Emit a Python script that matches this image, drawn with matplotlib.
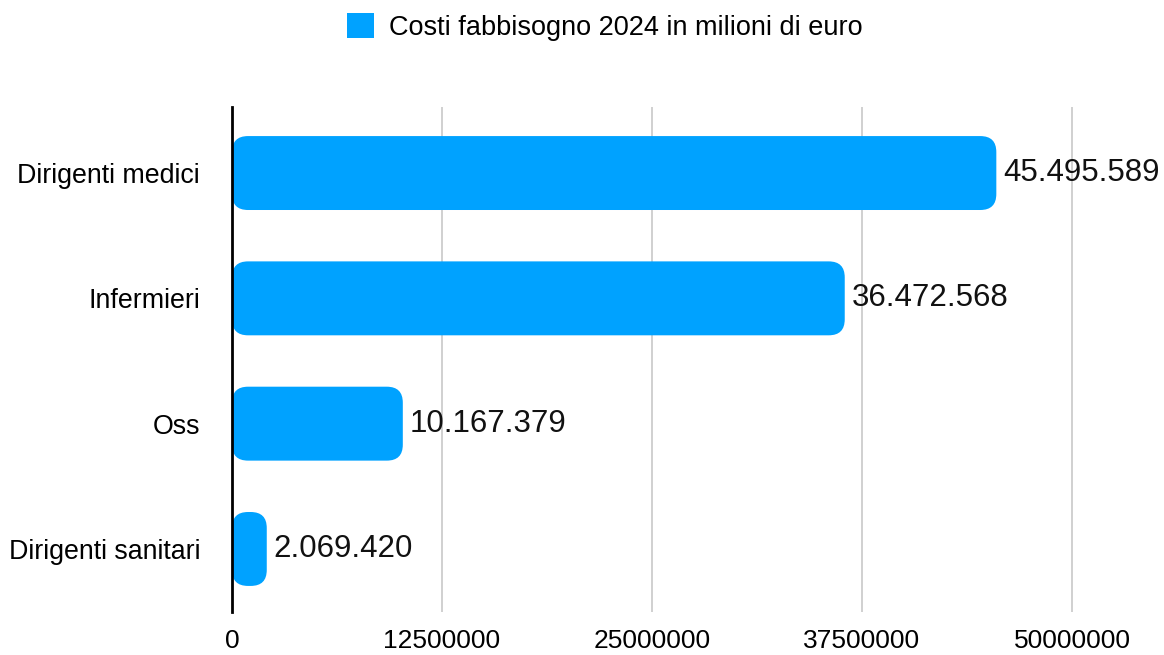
import matplotlib
matplotlib.use("Agg")
import matplotlib.pyplot as plt
from matplotlib.patches import FancyBboxPatch, Patch

categories = ["Dirigenti medici", "Infermieri", "Oss", "Dirigenti sanitari"]
values = [45495589, 36472568, 10167379, 2069420]
value_labels = ["45.495.589", "36.472.568", "10.167.379", "2.069.420"]
x_ticks = [0, 12500000, 25000000, 37500000, 50000000]
legend_label = "Costi fabbisogno 2024 in milioni di euro"

BAR_COLOR = "#00A2FF"
W, H = 1164, 655
plt.rcParams["font.family"] = ["Liberation Sans", "DejaVu Sans"]

fig = plt.figure(figsize=(W / 100, H / 100), dpi=100)
ax_left, ax_right, ax_top, ax_bottom = 232, 1114, 107, 612
ax = fig.add_axes([ax_left / W, 1 - ax_bottom / H,
                   (ax_right - ax_left) / W, (ax_bottom - ax_top) / H])

xmax = 52500000
y_lo, y_hi = 3.503, -0.527
ax.set_xlim(0, xmax)
ax.set_ylim(y_lo, y_hi)

bars = ax.barh(range(len(categories)), values, height=0.59, color=BAR_COLOR)

# replace plain rectangles with rounded ones (radius given in pixels)
px_w = ax_right - ax_left
px_h = ax_bottom - ax_top
x_per_px = xmax / px_w
y_per_px = (y_lo - y_hi) / px_h
radius_px = 16
for rect in bars:
    x0, y0 = rect.get_x(), rect.get_y()
    w, h = rect.get_width(), rect.get_height()
    r = min(radius_px, w / x_per_px / 2) * x_per_px
    fb = FancyBboxPatch((x0, y0), w, h,
                        boxstyle=f"round,pad=0,rounding_size={r}",
                        mutation_aspect=y_per_px / x_per_px,
                        facecolor=BAR_COLOR, edgecolor="none", zorder=3)
    ax.add_patch(fb)
    rect.set_visible(False)

for i, (v, lab) in enumerate(zip(values, value_labels)):
    ax.text(v + 7 * x_per_px, i, lab, va="center", ha="left",
            fontsize=22.5, color="#111111", clip_on=False, zorder=4)

ax.set_yticks(range(len(categories)))
ax.set_yticklabels(categories, fontsize=19.3)
ax.set_xticks(x_ticks)
ax.set_xticklabels([str(t) for t in x_ticks], fontsize=19)
ax.tick_params(axis="y", length=0, pad=23)
ax.tick_params(axis="x", length=0, pad=12)

ax.grid(axis="x", color="#c8c8c8", linewidth=1.2, zorder=0)
ax.set_axisbelow(True)
for side in ["top", "right", "bottom"]:
    ax.spines[side].set_visible(False)
ax.spines["left"].set_color("black")
ax.spines["left"].set_linewidth(2)
ax.spines["left"].set_zorder(5)

fig.legend(handles=[Patch(facecolor=BAR_COLOR, edgecolor="none", label=legend_label)],
           loc="center", bbox_to_anchor=(605 / W, 1 - 27 / H), frameon=False,
           fontsize=19.5, handlelength=1.0, handleheight=1.0, handletextpad=0.55)

fig.savefig("out.png", dpi=100, facecolor="white")
